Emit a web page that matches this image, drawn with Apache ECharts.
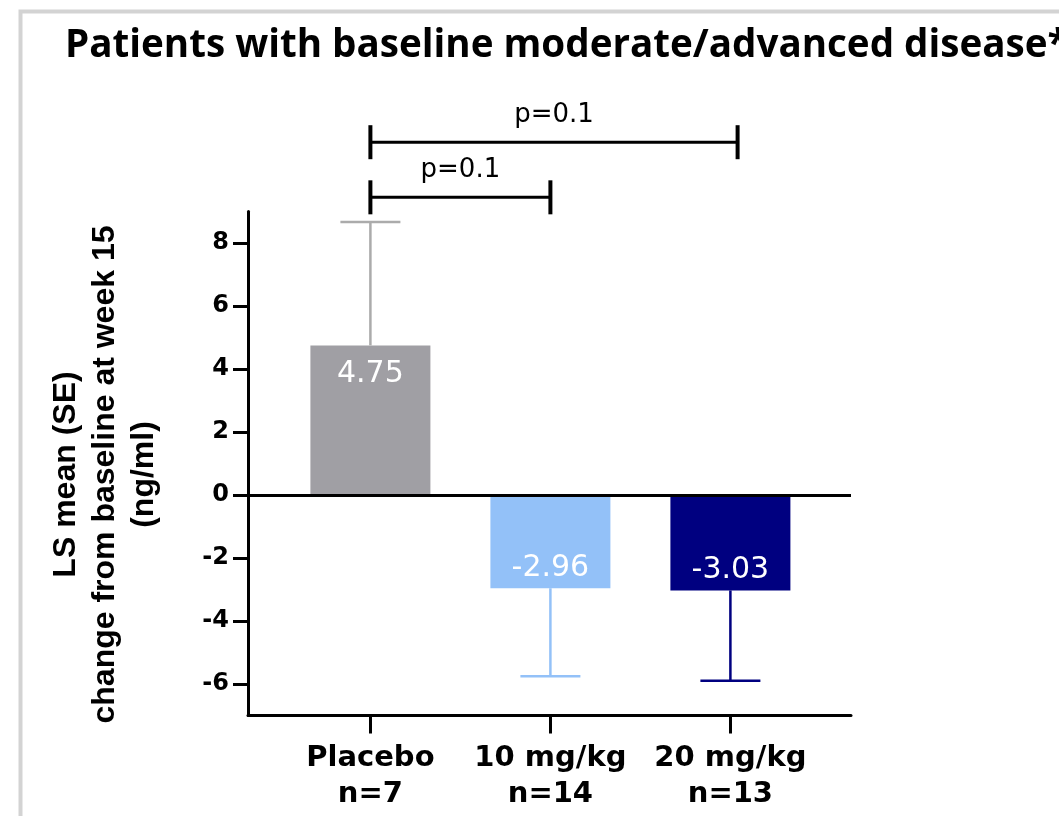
<!DOCTYPE html>
<html>
<head>
<meta charset="utf-8">
<script src="https://cdn.jsdelivr.net/npm/echarts@6/dist/echarts.min.js"></script>
<style>html,body{margin:0;padding:0;background:#fff;}#c{width:1059px;height:816px;}</style>
</head>
<body>
<div id="c"></div>
<script>
const titleText = 'Patients with baseline moderate/advanced disease*';
const categories = ['Placebo', '10 mg/kg', '20 mg/kg'];
const nLabels = ['n=7', 'n=14', 'n=13'];
const means = [4.75, -2.96, -3.03];
const seValues = [3.92, 2.79, 2.87];
const barColors = ['#a09fa4', '#93c1f8', '#000080'];
const errColors = ['#ababab', '#93c1f8', '#000080'];
const yTicks = [-6, -4, -2, 0, 2, 4, 6, 8];
const xTicks = [0, 1, 2];
const compFrom = [0, 0];
const compTo = [2.04, 1];
const compLevel = [11.2, 9.45];
const compText = ['p=0.1', 'p=0.1'];

const chart = echarts.init(document.getElementById('c'));

const barData = means.map((m, i) => ({
  value: [i, m],
  itemStyle: { color: barColors[i] },
  label: { position: m >= 0 ? 'insideTop' : 'insideBottom', distance: m >= 0 ? 14 : 5 }
}));
const errData = means.map((m, i) => [i, m, m >= 0 ? m + seValues[i] : m - seValues[i]]);
const compData = compFrom.map((f, i) => [f, compTo[i], compLevel[i], i]);

chart.setOption({
  animation: false,
  backgroundColor: '#fff',
  title: {
    text: titleText,
    left: 60, top: 22,
    textStyle: { fontFamily: 'Open Sans', fontWeight: 'bold', fontSize: 38.6, color: '#000' }
  },
  graphic: [{
    type: 'rect', left: 18, top: 9, z: -10,
    shape: { x: 0, y: 0, width: 1200, height: 1000 },
    style: { fill: null, stroke: '#d3d3d3', lineWidth: 4 }
  }],
  grid: { left: 248, top: 211.5, right: 208, bottom: 100.5 },
  xAxis: {
    type: 'value', min: -0.68, max: 2.67,
    splitLine: { show: false },
    axisLine: { onZero: false, lineStyle: { color: '#000', width: 3 } },
    axisTick: { customValues: xTicks, length: 18, lineStyle: { color: '#000', width: 3 } },
    axisLabel: {
      customValues: xTicks,
      formatter: v => categories[Math.round(v)] + '\n' + nLabels[Math.round(v)],
      fontFamily: 'DejaVu Sans', fontWeight: 'bold', fontSize: 29, lineHeight: 36,
      color: '#000', margin: 25
    }
  },
  yAxis: {
    type: 'value', min: -7, max: 9,
    splitLine: { show: false },
    axisLine: { onZero: false, lineStyle: { color: '#000', width: 3 } },
    axisTick: { customValues: yTicks, length: 15, lineStyle: { color: '#000', width: 3 } },
    axisLabel: {
      customValues: yTicks, margin: 19,
      fontFamily: 'DejaVu Sans', fontWeight: 'bold', fontSize: 24, color: '#000'
    },
    name: 'LS mean (SE)\nchange from baseline at week 15\n(ng/ml)',
    nameLocation: 'middle', nameRotate: 90, nameGap: 84,
    nameTextStyle: {
      fontFamily: 'Liberation Sans', fontWeight: 'bold', fontSize: 32, lineHeight: 39,
      color: '#000', padding: [0, 22, 0, 0]
    }
  },
  series: [
    {
      type: 'bar', barWidth: 120, data: barData, z: 2,
      label: {
        show: true, color: '#fff', fontFamily: 'DejaVu Sans', fontSize: 30,
        formatter: p => means[p.dataIndex].toFixed(2)
      },
      markLine: {
        silent: true, symbol: 'none', label: { show: false },
        lineStyle: { color: '#000', width: 3, type: 'solid' },
        data: [{ yAxis: 0 }]
      }
    },
    {
      type: 'custom', data: errData, z: 3,
      renderItem: (params, api) => {
        const i = params.dataIndex;
        const p0 = api.coord([api.value(0), api.value(1)]);
        const p1 = api.coord([api.value(0), api.value(2)]);
        const c = errColors[i];
        return {
          type: 'group', children: [
            { type: 'line', shape: { x1: p0[0], y1: p0[1], x2: p1[0], y2: p1[1] }, style: { stroke: c, lineWidth: 2.5 } },
            { type: 'line', shape: { x1: p1[0] - 30, y1: p1[1], x2: p1[0] + 30, y2: p1[1] }, style: { stroke: c, lineWidth: 2.5 } }
          ]
        };
      }
    },
    {
      type: 'custom', data: compData, z: 4, clip: false,
      renderItem: (params, api) => {
        const i = params.dataIndex;
        const a = api.coord([api.value(0), api.value(2)]);
        const b = api.coord([api.value(1), api.value(2)]);
        const y = a[1];
        return {
          type: 'group', children: [
            { type: 'line', shape: { x1: a[0], y1: y, x2: b[0], y2: y }, style: { stroke: '#000', lineWidth: 3 } },
            { type: 'line', shape: { x1: a[0], y1: y - 17, x2: a[0], y2: y + 17 }, style: { stroke: '#000', lineWidth: 4 } },
            { type: 'line', shape: { x1: b[0], y1: y - 17, x2: b[0], y2: y + 17 }, style: { stroke: '#000', lineWidth: 4 } },
            { type: 'text', style: { text: compText[i], x: (a[0] + b[0]) / 2, y: y - 27, align: 'center', verticalAlign: 'middle',
              fontFamily: 'DejaVu Sans', fontSize: 26, fill: '#000' } }
          ]
        };
      }
    }
  ]
});
</script>
</body>
</html>
